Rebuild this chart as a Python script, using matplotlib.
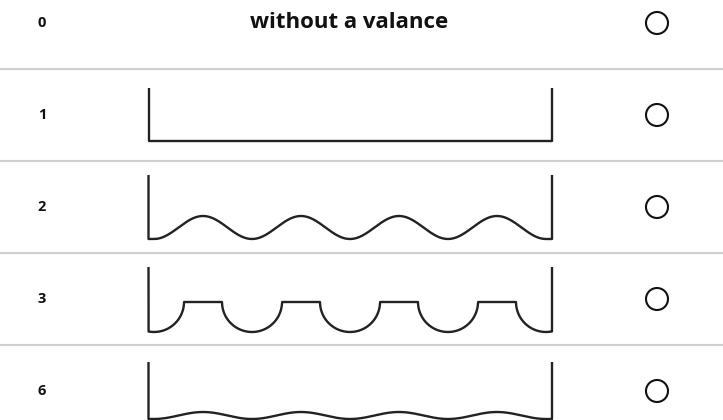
import numpy as np
import matplotlib.pyplot as plt
from matplotlib.patches import Circle

plt.rcParams['font.family'] = ['Open Sans', 'DejaVu Sans']

# rows of the form: label, valance shape
row_labels = ['0', '1', '2', '3', '6']
valance_kinds = ['none', 'flat', 'wave', 'scallop', 'wave']
header_text = 'without a valance'

# shape geometry per row (offsets from row centre, px)
side_top = [0, -27, -32, -32, -29]
side_bottom = [0, 26, 32, 33, 28]
crest_level = [0, 26, 9, 3, 21]

W, H = 723, 420
ROW_H = 92
FIRST_Y = 23
X_LEFT, X_RIGHT = 148.5, 552
PERIOD = 98
CREST0 = 203
INK = '#222222'


def wave_path(yc, top, bottom, crest):
    x = np.linspace(X_LEFT, X_RIGHT, 2000)
    mid = (bottom + crest) / 2.0
    amp = (bottom - crest) / 2.0
    y = mid - amp * np.cos(2 * np.pi * (x - CREST0) / PERIOD)
    lo, hi = CREST0 - PERIOD / 2, CREST0 + 3.5 * PERIOD
    y[(x < lo) | (x > hi)] = bottom
    xs = np.concatenate([[X_LEFT], x, [X_RIGHT]])
    ys = np.concatenate([[top], y, [top]]) + yc
    return xs, ys


def scallop_path(yc, top, bottom, crest):
    x = np.linspace(X_LEFT, X_RIGHT, 4000)
    r = bottom - crest
    half_flat = PERIOD / 2 - r
    u = np.mod(x - CREST0 + PERIOD / 2, PERIOD) - PERIOD / 2
    d = PERIOD / 2 - np.abs(u)
    y = np.where(np.abs(u) <= half_flat, crest,
                 crest + np.sqrt(np.clip(r ** 2 - d ** 2, 0, None)))
    xs = np.concatenate([[X_LEFT], x, [X_RIGHT]])
    ys = np.concatenate([[top], y, [top]]) + yc
    return xs, ys


fig = plt.figure(figsize=(W / 100, H / 100), dpi=100)
ax = fig.add_axes([0, 0, 1, 1])
ax.set_xlim(0, W)
ax.set_ylim(H, 0)
ax.axis('off')

for i, label in enumerate(row_labels):
    yc = FIRST_Y + i * ROW_H
    if i > 0:
        ax.axhline(yc - ROW_H / 2, color='#cfcfcf', lw=1.5)

    ax.text(42, yc, label, ha='center', va='center', fontsize=10.5,
            fontweight='bold', color='#111111')
    ax.add_patch(Circle((657, yc), 11, fill=False, ec='#111111', lw=1.5))

    kind = valance_kinds[i]
    if kind == 'none':
        ax.text(349, yc, header_text, ha='center', va='center', fontsize=16,
                fontweight='bold', color='#111111')
        continue
    if kind == 'flat':
        xs = [X_LEFT, X_LEFT, X_RIGHT, X_RIGHT]
        ys = [yc + side_top[i], yc + side_bottom[i], yc + side_bottom[i], yc + side_top[i]]
    elif kind == 'wave':
        xs, ys = wave_path(yc, side_top[i], side_bottom[i], crest_level[i])
    else:
        xs, ys = scallop_path(yc, side_top[i], side_bottom[i], crest_level[i])
    ax.plot(xs, ys, color=INK, lw=1.7, solid_joinstyle='round',
            solid_capstyle='butt')

fig.savefig('out.png', dpi=100)
